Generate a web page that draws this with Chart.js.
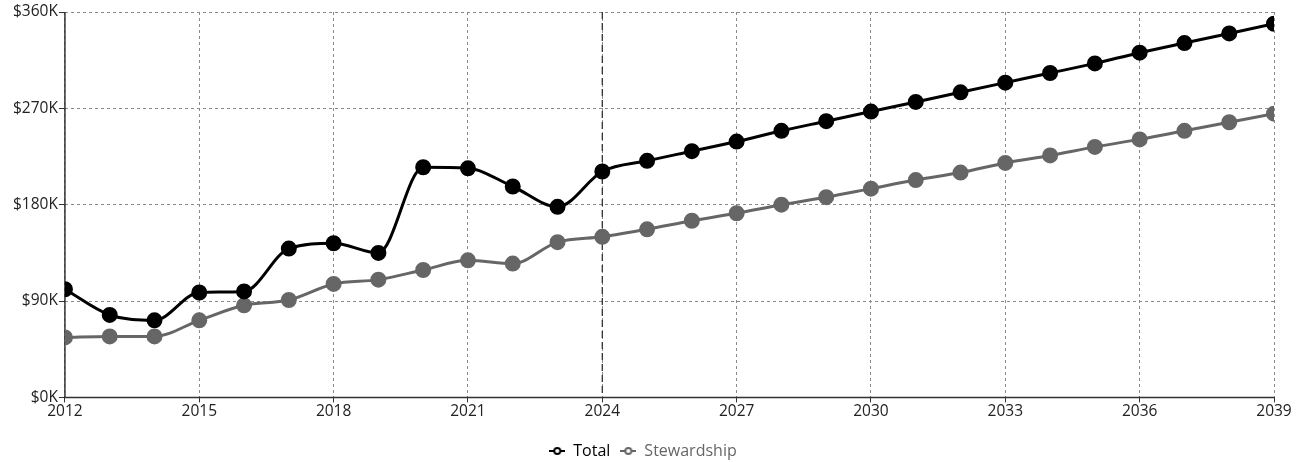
<!DOCTYPE html>
<html>
<head>
<meta charset="utf-8">
<script src="https://cdn.jsdelivr.net/npm/chart.js@4.4.1/dist/chart.umd.min.js"></script>
<style>
  html, body { margin: 0; padding: 0; background: #fff; }
  #wrap { width: 1306px; height: 462px; }
</style>
</head>
<body>
<div id="wrap"><canvas id="chart"></canvas></div>
<script>
const years = [2012, 2013, 2014, 2015, 2016, 2017, 2018, 2019, 2020, 2021, 2022, 2023, 2024, 2025,
    2026, 2027, 2028, 2029, 2030, 2031, 2032, 2033, 2034, 2035, 2036, 2037, 2038, 2039];
const totalValues = [101000, 77000, 72000, 98000, 99000, 139000, 144000, 135000, 215000, 214000, 197000, 178000, 211000, 221000,
    230000, 239000, 249000, 258000, 267000, 276000, 285000, 294000, 303000, 312000, 322000, 331000, 340000, 349000];
const stewardshipValues = [56000, 57000, 57000, 72000, 86000, 91000, 106000, 110000, 119000, 128000, 125000, 145000, 150000, 157000,
    165000, 172000, 180000, 187000, 195000, 203000, 210000, 219000, 226000, 234000, 241000, 249000, 257000, 265000];
const currentYear = 2024;

// small legend marker: line with open circle
function legendMarker(color) {
    const c = document.createElement('canvas');
    c.width = 16; c.height = 10;
    const g = c.getContext('2d');
    g.strokeStyle = color;
    g.lineWidth = 2;
    g.beginPath(); g.moveTo(0, 5); g.lineTo(16, 5); g.stroke();
    g.fillStyle = '#fff';
    g.beginPath(); g.arc(8, 5, 3, 0, Math.PI * 2); g.fill(); g.stroke();
    return c;
}

// dashed marker line at the current year, plus solid axis lines
const todayLine = {
    id: 'todayLine',
    beforeDatasetsDraw(chart) {
        const x = chart.scales.x.getPixelForValue(currentYear);
        const area = chart.chartArea;
        const ctx = chart.ctx;
        ctx.save();
        ctx.strokeStyle = '#333';
        ctx.lineWidth = 1.3;
        ctx.setLineDash([7, 4]);
        ctx.beginPath();
        ctx.moveTo(x, area.top);
        ctx.lineTo(x, area.bottom);
        ctx.stroke();
        // axes
        ctx.setLineDash([]);
        ctx.lineWidth = 1.5;
        ctx.beginPath();
        ctx.moveTo(area.left, area.top);
        ctx.lineTo(area.left, area.bottom);
        ctx.lineTo(area.right, area.bottom);
        ctx.stroke();
        ctx.restore();
    }
};

const colors = { 'Total': '#000000', 'Stewardship': '#666666' };
const tickFont = { family: 'Open Sans', size: 15.5 };

new Chart(document.getElementById('chart'), {
    type: 'line',
    data: {
        datasets: [{
            label: 'Total',
            data: years.map((y, i) => ({ x: y, y: totalValues[i] })),
            borderColor: colors['Total'],
            backgroundColor: colors['Total'],
            borderWidth: 3,
            pointRadius: 6.5,
            pointHoverRadius: 6.5,
            cubicInterpolationMode: 'monotone'
        }, {
            label: 'Stewardship',
            data: years.map((y, i) => ({ x: y, y: stewardshipValues[i] })),
            borderColor: colors['Stewardship'],
            backgroundColor: colors['Stewardship'],
            borderWidth: 3,
            pointRadius: 6.5,
            pointHoverRadius: 6.5,
            cubicInterpolationMode: 'monotone'
        }]
    },
    options: {
        responsive: true,
        maintainAspectRatio: false,
        animation: false,
        layout: { padding: { left: 12, right: 32, top: 12, bottom: -7 } },
        scales: {
            x: {
                type: 'linear',
                min: 2012,
                max: 2039,
                afterFit: scale => { scale.height += 12; },
                ticks: {
                    stepSize: 3,
                    color: '#222',
                    font: tickFont,
                    padding: 0,
                    callback: v => String(v)
                },
                grid: { color: '#8a8a8a', tickLength: 5, tickColor: '#333', tickBorderDash: [] },
                border: { display: false, dash: [3, 3] }
            },
            y: {
                min: 0,
                max: 360000,
                ticks: {
                    stepSize: 90000,
                    color: '#222',
                    font: tickFont,
                    padding: 1,
                    callback: v => '$' + (v / 1000) + 'K'
                },
                grid: { color: '#8a8a8a', tickLength: 6, tickColor: '#333', tickBorderDash: [] },
                border: { display: false, dash: [3, 3] }
            }
        },
        plugins: {
            legend: {
                position: 'bottom',
                labels: {
                    usePointStyle: true,
                    font: { family: 'Open Sans', size: 16 },
                    boxWidth: 16,
                    padding: 10,
                    generateLabels: chart => chart.data.datasets.map((ds, i) => ({
                        text: ds.label,
                        fontColor: colors[ds.label],
                        pointStyle: legendMarker(colors[ds.label]),
                        datasetIndex: i,
                        hidden: !chart.isDatasetVisible(i),
                        lineWidth: 0
                    }))
                }
            },
            tooltip: { enabled: false }
        }
    },
    plugins: [todayLine]
});
</script>
</body>
</html>
